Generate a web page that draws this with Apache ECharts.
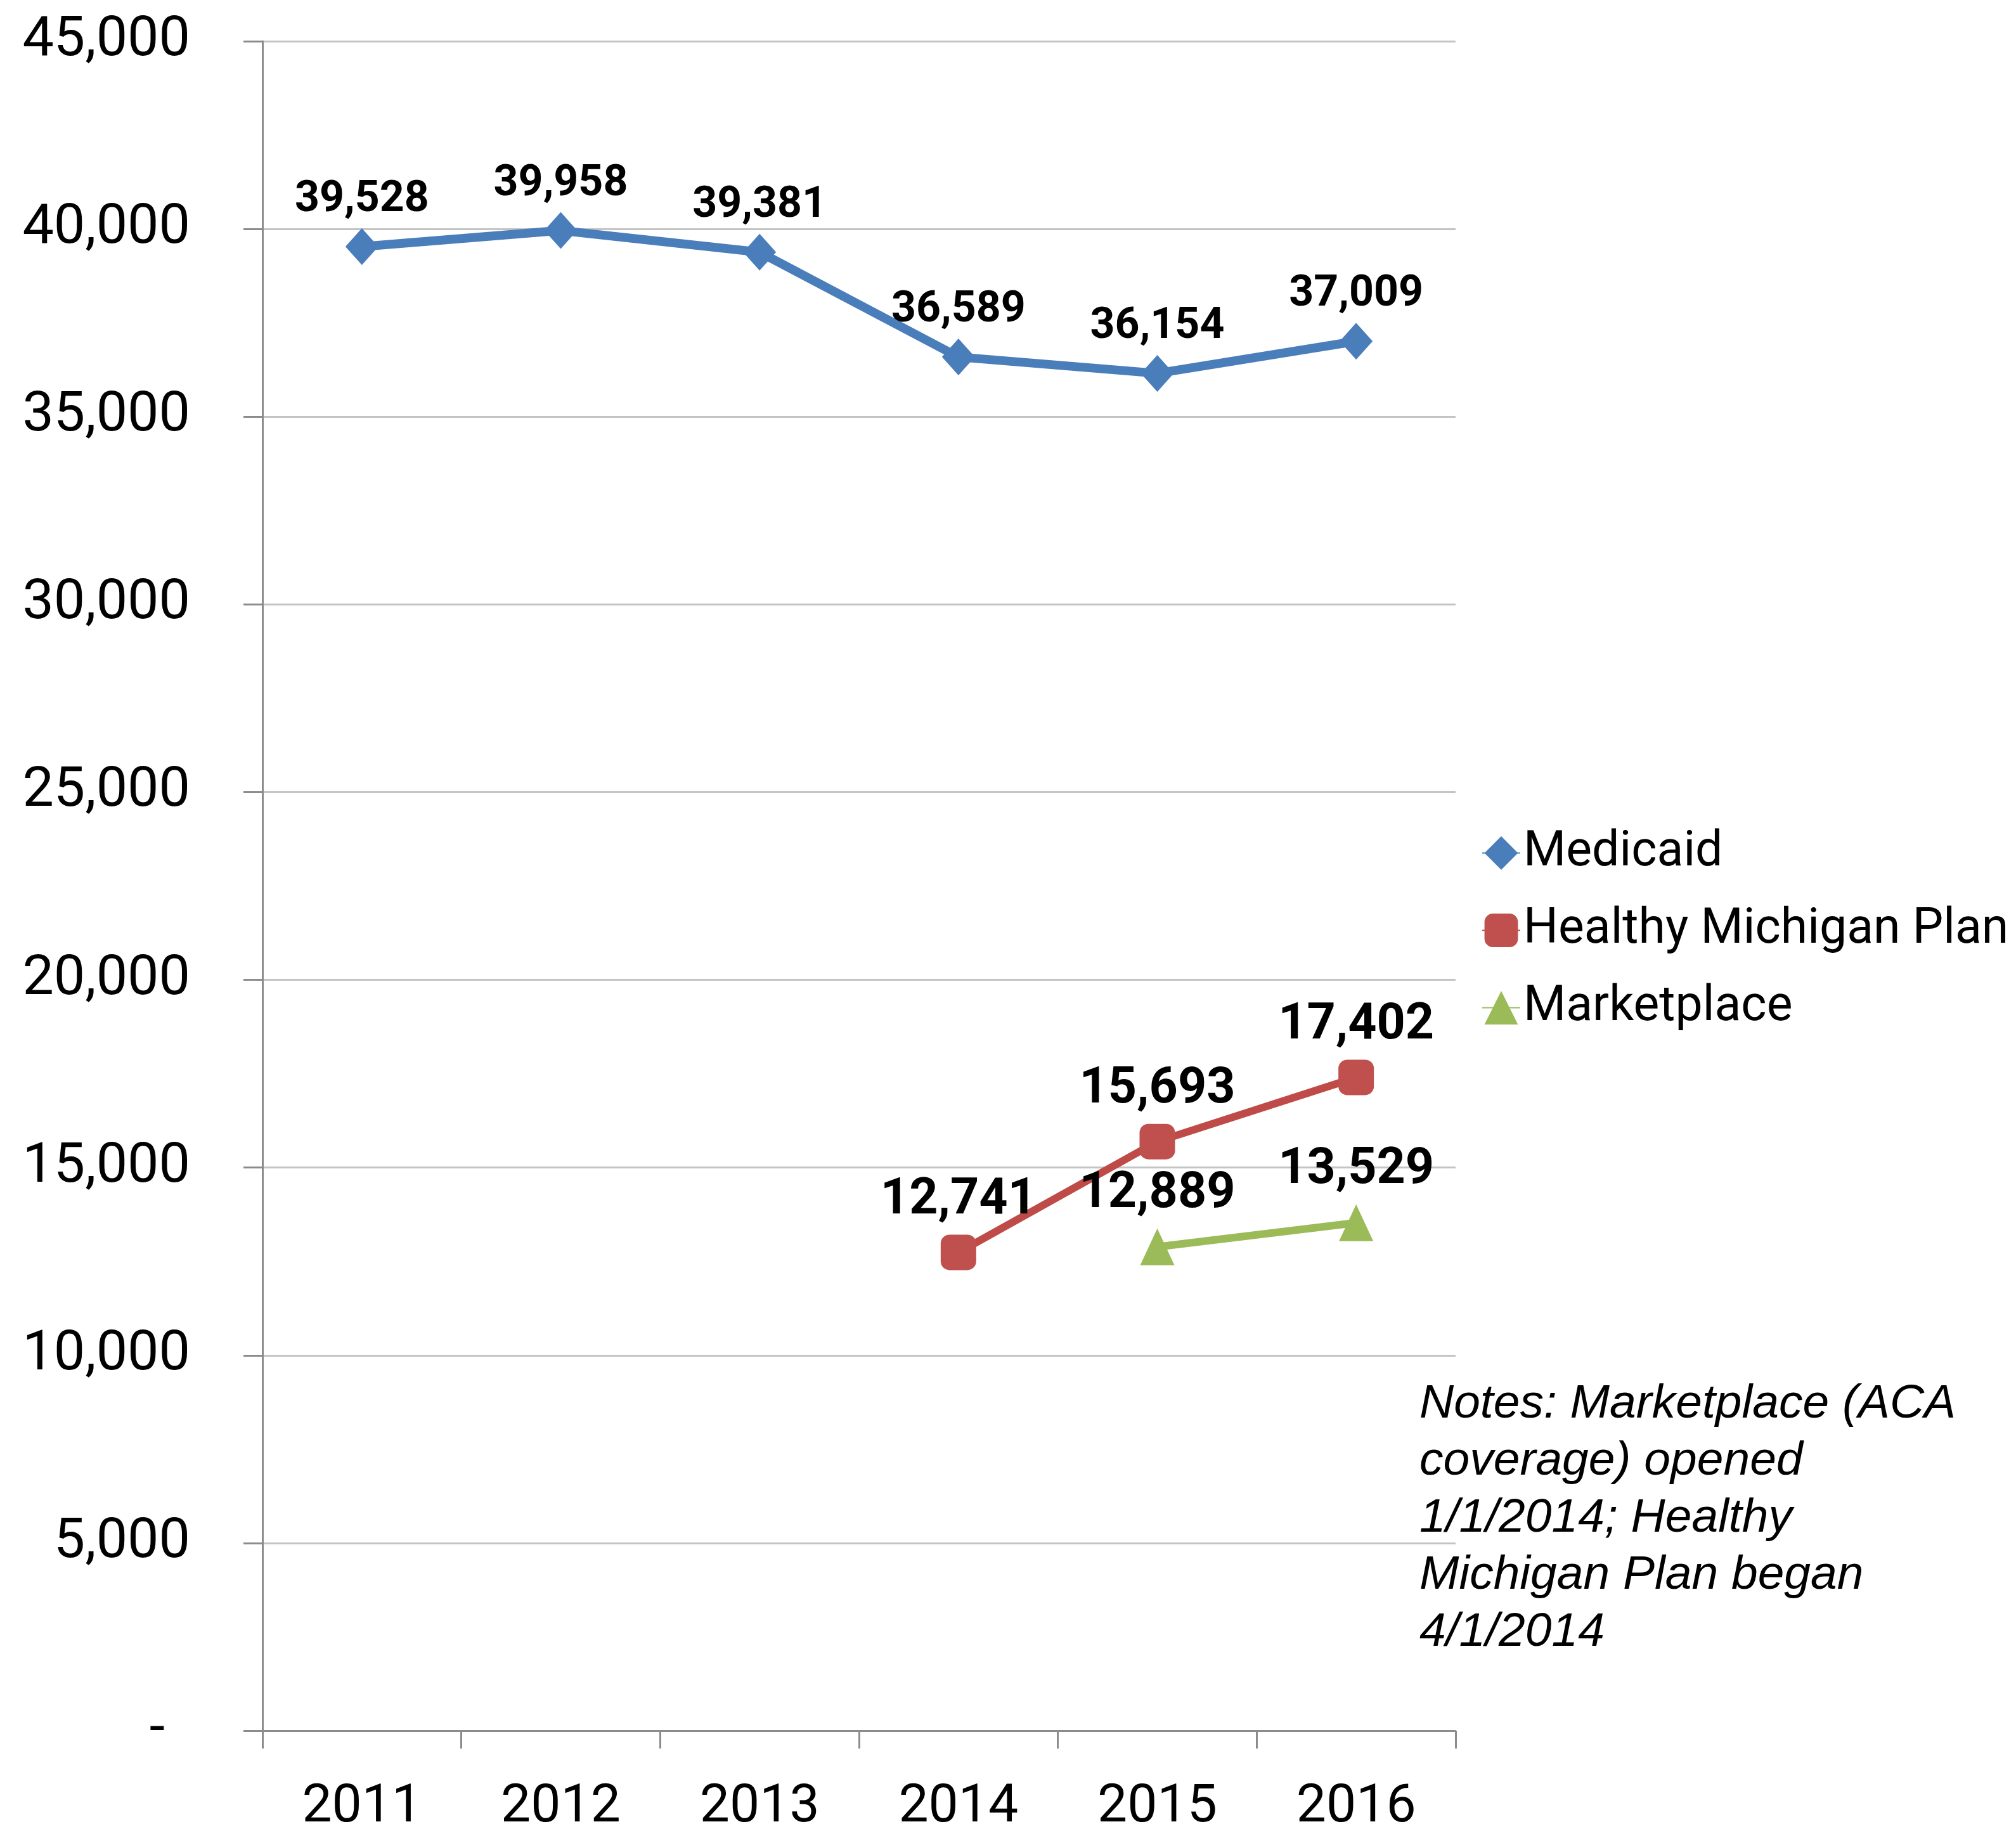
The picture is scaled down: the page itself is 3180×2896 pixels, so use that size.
<!DOCTYPE html>
<html>
<head>
<meta charset="utf-8">
<script src="https://cdn.jsdelivr.net/npm/echarts@6/dist/echarts.min.js"></script>
<style>
  html, body { margin: 0; padding: 0; background: #fff; }
  #chart { width: 3180px; height: 2896px; }
</style>
</head>
<body>
<div id="chart"></div>
<script>
const years = ["2011", "2012", "2013", "2014", "2015", "2016"];
const medicaid = [39528, 39958, 39381, 36589, 36154, 37009];
const healthyMichigan = [null, null, null, 12741, 15693, 17402];
const marketplace = [null, null, null, null, 12889, 13529];
const seriesNames = ["Medicaid", "Healthy Michigan Plan", "Marketplace"];
const yMin = 0;
const yMax = 45000;
const yStep = 5000;
const notes = [
  "Notes: Marketplace (ACA",
  "coverage) opened",
  "1/1/2014; Healthy",
  "Michigan Plan began",
  "4/1/2014",
];

const chart = echarts.init(document.getElementById("chart"));

const fmt = (v) => Number(v).toLocaleString("en-US");

const labelStyle = (size, dist) => ({
  show: true,
  position: "top",
  distance: dist,
  color: "#000",
  fontFamily: "Roboto",
  fontWeight: "bold",
  fontSize: size,
  formatter: (p) => fmt(p.value),
});

const options = {
  backgroundColor: "#fff",
  animation: false,
  grid: { left: 414, right: 884, top: 65, bottom: 166 },
  legend: {
    orient: "vertical",
    left: 2332,
    top: 1302,
    itemWidth: 60,
    itemHeight: 66,
    itemGap: 45,
    itemTextGap: 4,
    textStyle: { fontFamily: "Roboto", fontSize: 77, color: "#000" },
    data: seriesNames,
  },
  xAxis: {
    type: "category",
    data: years,
    boundaryGap: true,
    axisLine: { lineStyle: { color: "#8c8c8c", width: 3 } },
    axisTick: { show: true, length: 28, lineStyle: { color: "#8c8c8c", width: 3 } },
    axisLabel: {
      margin: 80,
      color: "#000",
      fontFamily: "Roboto",
      fontSize: 84,
    },
  },
  yAxis: {
    type: "value",
    min: yMin,
    max: yMax,
    interval: yStep,
    axisLine: { show: true, lineStyle: { color: "#8c8c8c", width: 3 } },
    axisTick: { show: true, length: 30, lineStyle: { color: "#8c8c8c", width: 3 } },
    splitLine: { lineStyle: { color: "#c4c4c4", width: 3 } },
    axisLabel: {
      margin: 114,
      color: "#000",
      fontFamily: "Roboto",
      fontSize: 88,
      formatter: (v) => (v === 0 ? "{d|-}" : fmt(v)),
      rich: {
        d: { fontFamily: "Roboto", fontSize: 88, color: "#000", padding: [0, 40, 0, 0] },
      },
    },
  },
  series: [
    {
      name: seriesNames[0],
      type: "line",
      data: medicaid,
      symbol: "diamond",
      symbolSize: [52, 58],
      lineStyle: { color: "#4A7EBB", width: 14 },
      itemStyle: { color: "#4A7EBB" },
      label: labelStyle(68, 10),
    },
    {
      name: seriesNames[1],
      type: "line",
      data: healthyMichigan,
      symbol: "roundRect",
      symbolSize: 56,
      lineStyle: { color: "#BE4B48", width: 12 },
      itemStyle: { color: "#C0504D" },
      label: labelStyle(79, 14),
    },
    {
      name: seriesNames[2],
      type: "line",
      data: marketplace,
      symbol: "triangle",
      symbolSize: [54, 58],
      lineStyle: { color: "#9BBB59", width: 12 },
      itemStyle: { color: "#9BBB59" },
      label: labelStyle(79, 14),
    },
  ],
  graphic: [
    {
      type: "text",
      left: 2239,
      top: 2170,
      style: {
        text: notes.join("\n"),
        fontFamily: "Liberation Sans",
        fontStyle: "italic",
        fontSize: 75,
        lineHeight: 90,
        fill: "#000",
      },
    },
  ],
};

chart.setOption(options);
</script>
</body>
</html>
